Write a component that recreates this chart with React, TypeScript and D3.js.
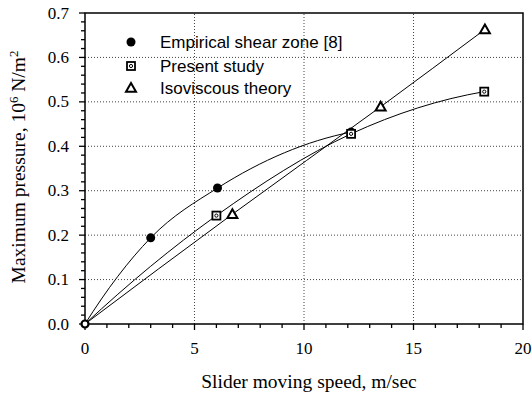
import React from "react";
import * as d3 from "d3";

const empiricalX = [0, 3.0, 6.05, 12.15];
const empiricalY = [0, 0.194, 0.306, 0.432];
const presentX = [0, 6.0, 12.15, 18.23];
const presentY = [0, 0.244, 0.428, 0.523];
const isoX = [0, 6.73, 13.5, 18.26];
const isoY = [0, 0.247, 0.489, 0.663];

const xMajor = [0, 5, 10, 15, 20];
const yMajor = [0, 0.1, 0.2, 0.3, 0.4, 0.5, 0.6, 0.7];
const xGrid = [5, 10, 15];
const yGrid = [0.1, 0.2, 0.3, 0.4, 0.5, 0.6];
const legendLabels = ["Empirical shear zone [8]", "Present study", "Isoviscous theory"];

const W = 532, H = 395;
const x = d3.scaleLinear().domain([0, 20]).range([85, 523]);
const y = d3.scaleLinear().domain([0, 0.7]).range([324, 13]);

const xMinor = d3.range(0, 21, 1);
const yMinor = d3.range(0, 0.7001, 0.02);

function zip(xs: number[], ys: number[]): [number, number][] {
  return xs.map((v, i) => [v, ys[i]]);
}

// Smooth curve: cubic Hermite with tangents from local three-point parabolas
function curveParabolic(context: any) {
  let xs: number[] = [];
  let ys: number[] = [];
  return {
    areaStart() {},
    areaEnd() {},
    lineStart() { xs = []; ys = []; },
    point(px: number, py: number) { xs.push(+px); ys.push(+py); },
    lineEnd() {
      const n = xs.length;
      if (n === 0) return;
      context.moveTo(xs[0], ys[0]);
      if (n === 1) return;
      if (n === 2) { context.lineTo(xs[1], ys[1]); return; }
      const h: number[] = [], s: number[] = [];
      for (let i = 0; i < n - 1; i++) {
        h.push(xs[i + 1] - xs[i]);
        s.push((ys[i + 1] - ys[i]) / h[i]);
      }
      const m: number[] = new Array(n);
      for (let i = 1; i < n - 1; i++) {
        m[i] = (h[i] * s[i - 1] + h[i - 1] * s[i]) / (h[i - 1] + h[i]);
      }
      m[0] = s[0] + (s[0] - s[1]) * h[0] / (h[0] + h[1]);
      m[n - 1] = s[n - 2] - (s[n - 3] - s[n - 2]) * h[n - 2] / (h[n - 3] + h[n - 2]);
      for (let i = 0; i < n - 1; i++) {
        const d = h[i] / 3;
        context.bezierCurveTo(
          xs[i] + d, ys[i] + d * m[i],
          xs[i + 1] - d, ys[i + 1] - d * m[i + 1],
          xs[i + 1], ys[i + 1]
        );
      }
    },
  };
}

const line = d3.line<[number, number]>()
  .x(d => x(d[0]))
  .y(d => y(d[1]))
  .curve(curveParabolic as any);

const serif = "'Liberation Serif', 'DejaVu Serif', serif";
const sans = "'Liberation Sans', Arial, sans-serif";

function Circle({ cx, cy }: { cx: number; cy: number }) {
  return <circle cx={cx} cy={cy} r={4.5} fill="#000" />;
}
function Square({ cx, cy }: { cx: number; cy: number }) {
  return (
    <g>
      <rect x={cx - 4} y={cy - 4} width={8} height={8} fill="#fff" stroke="#000" strokeWidth={1.8} />
      <circle cx={cx} cy={cy} r={1.6} fill="none" stroke="#000" strokeWidth={1} />
    </g>
  );
}
function Tri({ cx, cy }: { cx: number; cy: number }) {
  const s = 5;
  return (
    <path
      d={`M${cx},${cy - s} L${cx + s},${cy + s * 0.75} L${cx - s},${cy + s * 0.75} Z`}
      fill="#fff"
      stroke="#000"
      strokeWidth={2}
      strokeLinejoin="miter"
    />
  );
}

export default function App() {
  const emp = zip(empiricalX, empiricalY);
  const pre = zip(presentX, presentY);
  const iso = zip(isoX, isoY);
  return (
    <svg width={W} height={H} style={{ position: "absolute", left: 0, top: 0, background: "#fff" }}>
      {xGrid.map(v => (
        <line key={"gx" + v} x1={x(v)} x2={x(v)} y1={y(0)} y2={y(0.7)} stroke="#444" strokeWidth={1} strokeDasharray="1,2" />
      ))}
      {yGrid.map(v => (
        <line key={"gy" + v} x1={x(0)} x2={x(20)} y1={y(v)} y2={y(v)} stroke="#444" strokeWidth={1} strokeDasharray="1,2" />
      ))}
      <rect x={x(0)} y={y(0.7)} width={x(20) - x(0)} height={y(0) - y(0.7)} fill="none" stroke="#000" strokeWidth={1.5} />
      {xMinor.map(v => (
        <line key={"xm" + v} x1={x(v)} x2={x(v)} y1={y(0)} y2={y(0) + (v % 5 === 0 ? 6 : 4)} stroke="#000" strokeWidth={1.3} />
      ))}
      {yMinor.map((v, i) => (
        <line key={"ym" + i} x1={x(0)} x2={x(0) - (i % 5 === 0 ? 6 : 4)} y1={y(v)} y2={y(v)} stroke="#000" strokeWidth={1.3} />
      ))}
      {xMajor.map(v => (
        <text key={"xl" + v} x={x(v)} y={354} textAnchor="middle" fontFamily={serif} fontSize={17} fill="#000">{v}</text>
      ))}
      {yMajor.map(v => (
        <text key={"yl" + v} x={69} y={y(v) + 5.5} textAnchor="end" fontFamily={serif} fontSize={17} fill="#000">{v.toFixed(1)}</text>
      ))}
      <text x={309} y={388} textAnchor="middle" fontFamily={serif} fontSize={19.5} fill="#000">Slider moving speed, m/sec</text>
      <text transform={`translate(25,167) rotate(-90)`} textAnchor="middle" fontFamily={serif} fontSize={19.5} fill="#000">
        Maximum pressure, 10<tspan dy={-7} fontSize={13}>6</tspan><tspan dy={7}> N/m</tspan><tspan dy={-7} fontSize={13}>2</tspan>
      </text>
      <path d={line(emp) || ""} fill="none" stroke="#000" strokeWidth={1} />
      <path d={line(pre) || ""} fill="none" stroke="#000" strokeWidth={1} />
      <path d={line(iso) || ""} fill="none" stroke="#000" strokeWidth={1} />
      {iso.slice(1).map((d, i) => <Tri key={"t" + i} cx={x(d[0])} cy={y(d[1])} />)}
      {emp.slice(1).map((d, i) => <Circle key={"c" + i} cx={x(d[0])} cy={y(d[1])} />)}
      {pre.slice(1).map((d, i) => <Square key={"s" + i} cx={x(d[0])} cy={y(d[1])} />)}
      <circle cx={x(0)} cy={y(0)} r={3.5} fill="#fff" stroke="#000" strokeWidth={2.2} />
      <Circle cx={131} cy={42} />
      <Square cx={131} cy={66} />
      <Tri cx={131} cy={88} />
      {legendLabels.map((t, i) => (
        <text key={t} x={160} y={[42, 66, 88][i] + 6} fontFamily={sans} fontSize={17} fill="#000">{t}</text>
      ))}
    </svg>
  );
}
